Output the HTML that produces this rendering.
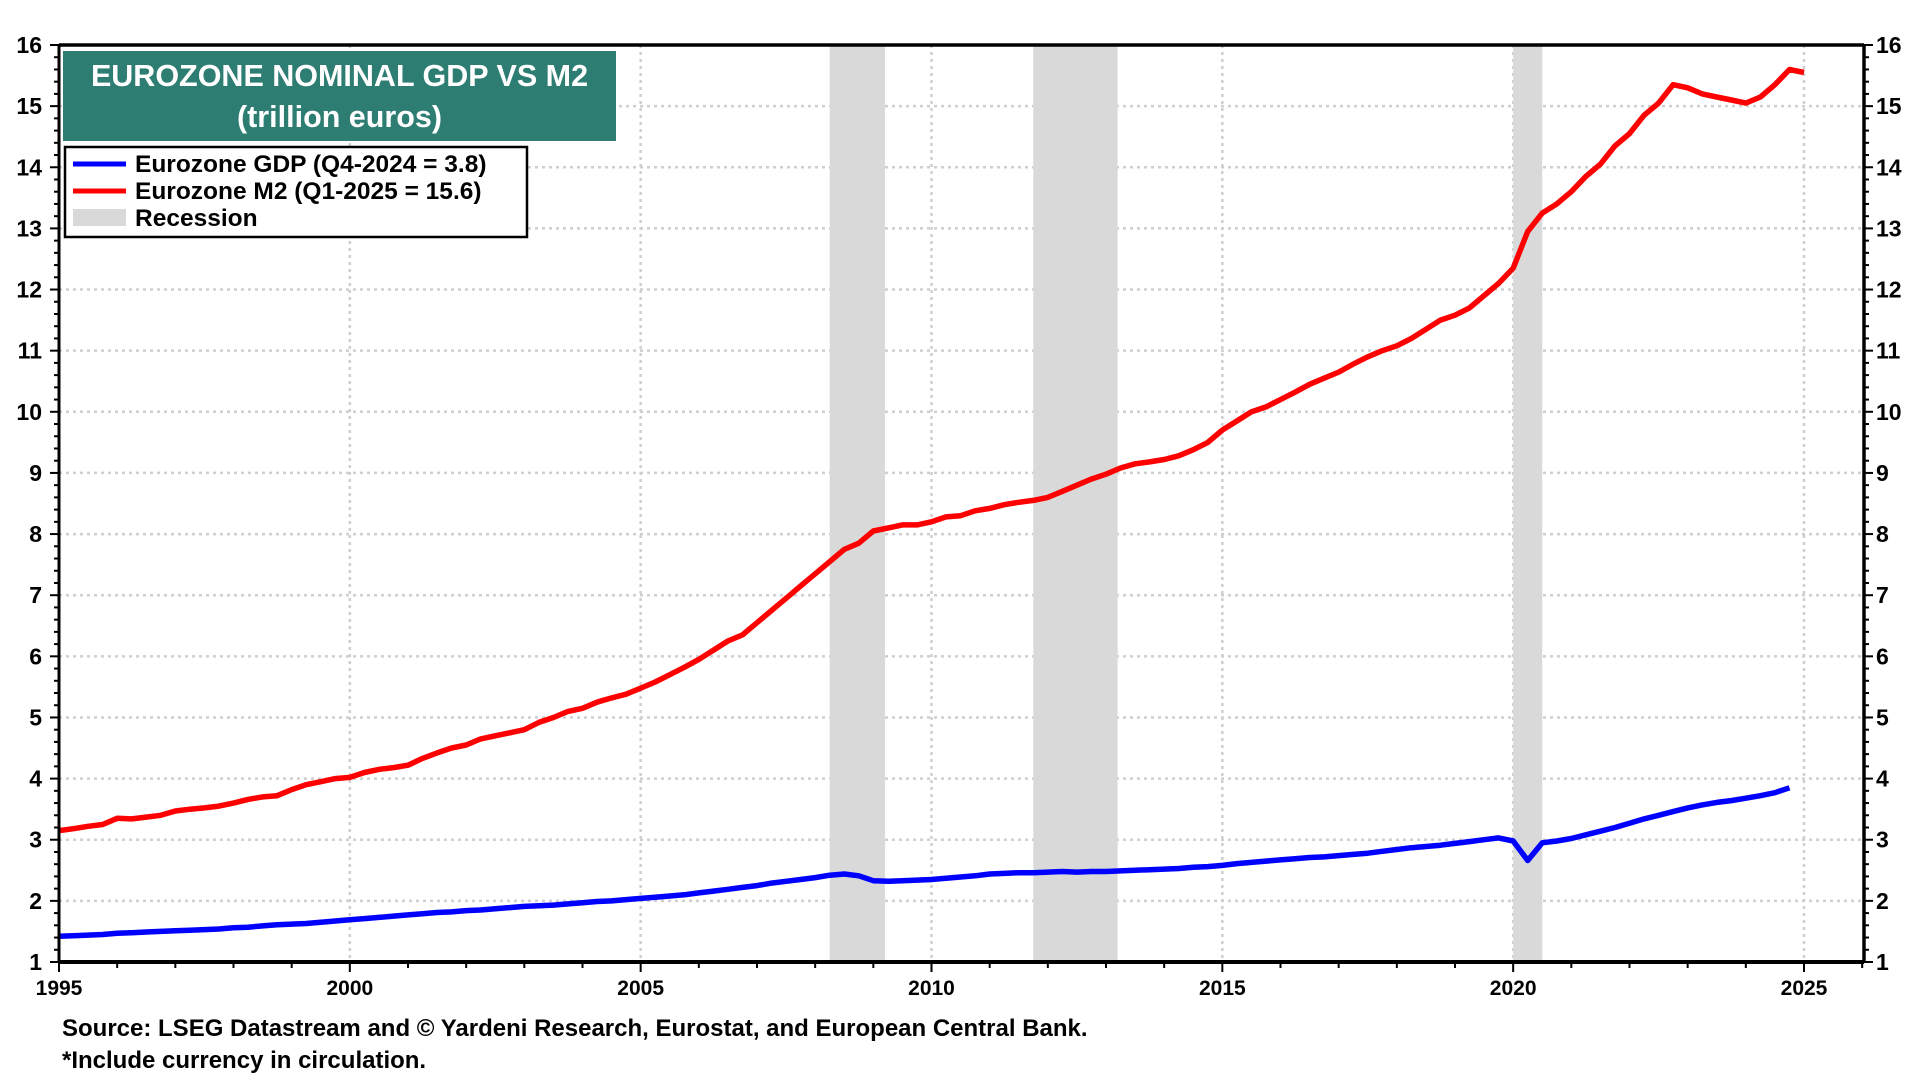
<!DOCTYPE html>
<html><head><meta charset="utf-8"><style>
html,body{margin:0;padding:0;background:#fff;}
svg{display:block;font-family:"Liberation Sans",Arial,sans-serif;font-weight:bold;}
</style></head><body>
<svg id="chart" width="1920" height="1080" viewBox="0 0 1920 1080">
<g id="grid"></g>
<g id="rec"></g>
<g id="series"></g>
<g id="axes"></g>
<g>
<rect x="63" y="51" width="553" height="90" fill="#2e7d72"/>
<text x="339.5" y="86" fill="#fff" font-size="30.5" text-anchor="middle">EUROZONE NOMINAL GDP VS M2</text>
<text x="339.5" y="127" fill="#fff" font-size="30.5" text-anchor="middle">(trillion euros)</text>
</g>
<g>
<rect x="65" y="147" width="462" height="90" fill="#fff" stroke="#000" stroke-width="2.5"/>
<g><line x1="73" y1="164" x2="126" y2="164" stroke="#0000ff" stroke-width="5"/><text x="135" y="172" font-size="24.5">Eurozone GDP (Q4-2024 = 3.8)</text></g>
<g><line x1="73" y1="191" x2="126" y2="191" stroke="#ff0000" stroke-width="5"/><text x="135" y="199" font-size="24.5">Eurozone M2 (Q1-2025 = 15.6)</text></g>
<g><rect x="73" y="209" width="53" height="17" fill="#d9d9d9"/><text x="135" y="226" font-size="24.5">Recession</text></g>
</g>
<text x="62" y="1036" font-size="24">Source: LSEG Datastream and © Yardeni Research, Eurostat, and European Central Bank.</text>
<text x="62" y="1068" font-size="24">*Include currency in circulation.</text>
</svg>
<script>
const yTicks=[1,2,3,4,5,6,7,8,9,10,11,12,13,14,15,16];
const xTicks=[1995,2000,2005,2010,2015,2020,2025];
const recessions=[[2008.25,2009.2],[2011.75,2013.2],[2020.0,2020.5]];
const gdpStart=1995;
const gdp=[1.42,1.43,1.44,1.45,1.47,1.48,1.49,1.50,1.51,1.52,1.53,1.54,1.56,1.57,1.59,1.61,1.62,1.63,1.65,1.67,
1.69,1.71,1.73,1.75,1.77,1.79,1.81,1.82,1.84,1.85,1.87,1.89,1.91,1.92,1.93,1.95,1.97,1.99,2.00,2.02,
2.04,2.06,2.08,2.10,2.13,2.16,2.19,2.22,2.25,2.29,2.32,2.35,2.38,2.42,2.44,2.41,2.33,2.32,2.33,2.34,
2.35,2.37,2.39,2.41,2.44,2.45,2.46,2.46,2.47,2.48,2.47,2.48,2.48,2.49,2.50,2.51,2.52,2.53,2.55,2.56,
2.58,2.61,2.63,2.65,2.67,2.69,2.71,2.72,2.74,2.76,2.78,2.81,2.84,2.87,2.89,2.91,2.94,2.97,3.00,3.03,
2.98,2.66,2.95,2.98,3.02,3.08,3.14,3.20,3.27,3.34,3.40,3.46,3.52,3.57,3.61,3.64,3.68,3.72,3.77,3.85];
const m2Start=1995;
const m2=[3.15,3.18,3.22,3.25,3.35,3.34,3.37,3.40,3.47,3.50,3.52,3.55,3.60,3.66,3.70,3.72,3.82,3.90,3.95,4.00,
4.02,4.10,4.15,4.18,4.22,4.33,4.42,4.50,4.55,4.65,4.70,4.75,4.80,4.92,5.00,5.10,5.15,5.25,5.32,5.38,
5.48,5.58,5.70,5.82,5.95,6.10,6.25,6.35,6.55,6.75,6.95,7.15,7.35,7.55,7.75,7.85,8.05,8.10,8.15,8.15,
8.20,8.28,8.30,8.38,8.42,8.48,8.52,8.55,8.60,8.70,8.80,8.90,8.98,9.08,9.15,9.18,9.22,9.28,9.38,9.50,
9.70,9.85,10.00,10.08,10.20,10.32,10.45,10.55,10.65,10.78,10.90,11.00,11.08,11.20,11.35,11.50,11.58,11.70,11.90,12.10,
12.35,12.95,13.25,13.40,13.60,13.85,14.05,14.35,14.55,14.85,15.05,15.35,15.30,15.20,15.15,15.10,15.05,15.15,15.35,15.60,15.55];

const L=59,R=1864,T=45,B=962;
const x=yr=>L+(yr-1995)*(1804-59)/30;
const y=v=>B-(v-1)*(B-T)/15;
const NS="http://www.w3.org/2000/svg";
function mk(tag,attrs,parent){const e=document.createElementNS(NS,tag);for(const k in attrs)e.setAttribute(k,attrs[k]);parent.appendChild(e);return e;}
const grid=document.getElementById('grid'),rec=document.getElementById('rec'),ser=document.getElementById('series'),ax=document.getElementById('axes');

yTicks.forEach(v=>{if(v>1&&v<16){const l=mk('line',{x1:L,x2:R,y1:y(v),y2:y(v),stroke:'#cfcfcf','stroke-width':2.5,'stroke-dasharray':'3 4'},grid);

}});
xTicks.forEach(t=>{if(t>1995){const l=mk('line',{x1:x(t),x2:x(t),y1:T,y2:B,stroke:'#cfcfcf','stroke-width':2.5,'stroke-dasharray':'3 4'},grid);

}});
recessions.forEach(r=>{const b=mk('rect',{x:x(r[0]),y:T,width:x(r[1])-x(r[0]),height:B-T,fill:'#d9d9d9'},rec);

});

function pts(arr,start){return arr.map((v,i)=>x(start+i*0.25).toFixed(1)+','+y(v).toFixed(1)).join(' ');}
const pg=mk('polyline',{points:pts(gdp,gdpStart),fill:'none',stroke:'#0000ff','stroke-width':5.5,'stroke-linejoin':'round'},ser);


const pm=mk('polyline',{points:pts(m2,m2Start),fill:'none',stroke:'#ff0000','stroke-width':5.5,'stroke-linejoin':'round'},ser);



mk('line',{x1:L,x2:R,y1:T,y2:T,stroke:'#000','stroke-width':3.5},ax);
mk('line',{x1:L,x2:L,y1:T,y2:B,stroke:'#000','stroke-width':3},ax);
mk('line',{x1:R,x2:R,y1:T,y2:B,stroke:'#000','stroke-width':3.5},ax);
mk('line',{x1:L,x2:R,y1:B,y2:B,stroke:'#000','stroke-width':4},ax);
for(let v=1;v<=16.001;v+=0.2){const maj=Math.abs(v-Math.round(v))<0.01;const len=maj?9:5;
mk('line',{x1:L-len,x2:L,y1:y(v),y2:y(v),stroke:'#000','stroke-width':2},ax);
mk('line',{x1:R,x2:R+len,y1:y(v),y2:y(v),stroke:'#000','stroke-width':2},ax);}
for(let yr=1995;yr<=2026;yr++){mk('line',{x1:x(yr),x2:x(yr),y1:B,y2:B+(yr%5===0?10:6),stroke:'#000','stroke-width':2},ax);}
yTicks.forEach(v=>{
const a=mk('text',{x:42,y:y(v)+8,'font-size':23,'text-anchor':'end'},ax);a.textContent=v;


const b=mk('text',{x:1876,y:y(v)+8,'font-size':23},ax);b.textContent=v;

});
xTicks.forEach(t=>{const a=mk('text',{x:x(t),y:995,'font-size':21,'text-anchor':'middle'},ax);a.textContent=t;

});
</script>
</body></html>
